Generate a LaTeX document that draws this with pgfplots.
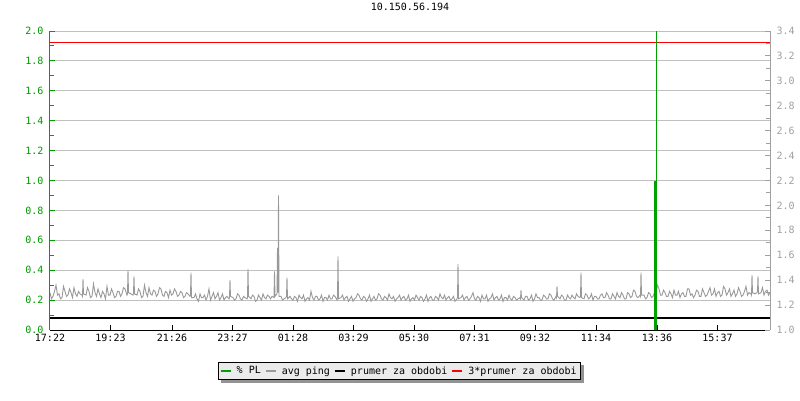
\documentclass[border=0pt]{standalone}
\usepackage{fontspec}
\setmainfont{DejaVu Sans Mono}
\usepackage{pgfplots}
\pgfplotsset{compat=1.18}
\usetikzlibrary{shadows}
\makeatletter
\tikzset{nopreaction/.code={\let\tikz@preactions\pgfutil@empty}}
\makeatother
\definecolor{plgreen}{RGB}{0,160,0}
\definecolor{lblgreen}{RGB}{0,153,0}
\definecolor{pinggray}{RGB}{153,153,153}
\definecolor{gridgray}{RGB}{192,192,192}
\definecolor{rgray}{RGB}{160,160,160}
\definecolor{legfill}{RGB}{235,235,235}
\pgfplotsset{
  base/.style={scale only axis, width=720pt, height=299pt, xmin=0, xmax=1440,
    at={(0pt,0pt)}, anchor=south west, font=\fontsize{10}{12}\selectfont,
    /pgf/number format/assume math mode=true, tick align=inside,
    major tick length=5pt, minor tick length=4pt},
}
\pgfplotstableread{
x y
0 1.30
3 1.25
6 1.27
9 1.31
12 1.36
15 1.28
18 1.29
21 1.25
24 1.26
27 1.35
30 1.31
33 1.27
36 1.28
39 1.33
42 1.30
45 1.26
48 1.34
51 1.29
54 1.27
57 1.31
60 1.29
64 1.28
65 1.27
66 1.41
67 1.29
72 1.28
75 1.34
78 1.31
81 1.26
84 1.27
87 1.37
90 1.30
93 1.27
96 1.33
99 1.29
102 1.26
105 1.31
108 1.29
111 1.25
114 1.35
117 1.28
120 1.28
123 1.33
126 1.30
129 1.26
132 1.27
135 1.31
138 1.31
141 1.27
144 1.29
147 1.34
150 1.33
154 1.28
155 1.29
156 1.48
157 1.30
162 1.29
166 1.28
167 1.30
168 1.43
169 1.29
174 1.28
177 1.33
180 1.31
183 1.26
186 1.27
189 1.36
192 1.30
195 1.27
198 1.34
201 1.29
204 1.28
207 1.32
210 1.31
213 1.27
216 1.29
219 1.34
222 1.33
225 1.28
228 1.27
231 1.31
234 1.30
237 1.26
240 1.32
243 1.28
246 1.29
249 1.33
252 1.31
255 1.27
258 1.28
261 1.31
264 1.30
267 1.26
270 1.27
273 1.30
276 1.29
280 1.27
281 1.28
282 1.46
283 1.26
288 1.26
291 1.29
294 1.25
297 1.23
300 1.29
303 1.26
306 1.26
309 1.28
312 1.24
315 1.27
318 1.33
321 1.24
324 1.27
327 1.30
330 1.25
333 1.27
336 1.30
339 1.24
342 1.26
345 1.29
348 1.24
351 1.26
354 1.27
358 1.25
359 1.26
360 1.40
361 1.27
366 1.26
369 1.24
372 1.25
375 1.29
378 1.28
381 1.25
384 1.24
387 1.27
390 1.26
394 1.25
395 1.26
396 1.49
397 1.27
402 1.25
405 1.28
408 1.27
411 1.23
414 1.24
417 1.28
420 1.26
423 1.24
426 1.29
429 1.26
432 1.25
435 1.28
438 1.27
441 1.25
444 1.27
448 1.26
449 1.47
450 1.27
454 1.29
455 1.66
456 1.30
457 2.08
458 1.27
462 1.27
465 1.24
468 1.25
472 1.26
473 1.27
474 1.42
475 1.25
480 1.27
483 1.25
486 1.24
489 1.27
492 1.26
495 1.23
498 1.28
501 1.26
504 1.25
507 1.28
510 1.23
513 1.25
516 1.26
519 1.24
522 1.31
525 1.26
528 1.24
531 1.27
534 1.27
537 1.24
540 1.25
543 1.28
546 1.23
549 1.26
552 1.26
555 1.24
558 1.28
561 1.25
564 1.25
567 1.28
570 1.27
574 1.24
575 1.26
576 1.59
577 1.25
582 1.26
585 1.28
588 1.24
591 1.26
594 1.27
597 1.23
600 1.25
603 1.27
606 1.23
609 1.25
612 1.26
615 1.29
618 1.28
621 1.25
624 1.24
627 1.27
630 1.26
633 1.23
636 1.25
639 1.28
642 1.23
645 1.25
648 1.27
651 1.24
654 1.25
657 1.29
660 1.28
663 1.25
666 1.24
669 1.27
672 1.26
675 1.24
678 1.29
681 1.26
684 1.25
687 1.27
690 1.23
693 1.25
696 1.26
699 1.28
702 1.24
705 1.26
708 1.27
711 1.24
714 1.25
717 1.28
720 1.23
723 1.25
726 1.26
729 1.24
732 1.28
735 1.26
738 1.24
741 1.27
744 1.26
747 1.23
750 1.25
753 1.28
756 1.23
759 1.26
762 1.27
765 1.24
768 1.24
771 1.27
774 1.26
777 1.24
780 1.29
783 1.26
786 1.25
789 1.28
792 1.24
795 1.26
798 1.27
801 1.24
804 1.25
807 1.27
810 1.23
814 1.25
815 1.26
816 1.53
817 1.25
822 1.26
825 1.28
828 1.24
831 1.26
834 1.27
837 1.24
840 1.25
843 1.27
846 1.30
849 1.25
852 1.24
855 1.27
858 1.26
861 1.23
864 1.28
867 1.25
870 1.25
873 1.28
876 1.23
879 1.25
882 1.26
885 1.29
888 1.24
891 1.26
894 1.27
897 1.24
900 1.25
903 1.28
906 1.23
909 1.26
912 1.26
915 1.24
918 1.28
921 1.25
924 1.24
927 1.27
930 1.26
933 1.24
936 1.25
940 1.26
941 1.25
942 1.32
943 1.26
948 1.24
951 1.27
954 1.27
957 1.24
960 1.25
963 1.28
966 1.23
969 1.25
972 1.29
975 1.26
978 1.26
981 1.24
984 1.24
987 1.28
990 1.27
993 1.25
996 1.25
999 1.29
1002 1.28
1005 1.25
1008 1.24
1012 1.27
1013 1.26
1014 1.35
1015 1.27
1020 1.25
1023 1.28
1026 1.27
1029 1.24
1032 1.24
1035 1.28
1038 1.26
1041 1.25
1044 1.28
1047 1.26
1050 1.25
1053 1.29
1056 1.27
1060 1.26
1061 1.27
1062 1.46
1063 1.26
1068 1.25
1071 1.29
1074 1.28
1077 1.25
1080 1.26
1083 1.29
1086 1.24
1089 1.27
1092 1.27
1095 1.25
1098 1.25
1101 1.28
1104 1.29
1107 1.26
1110 1.26
1113 1.30
1116 1.28
1119 1.25
1122 1.25
1125 1.29
1128 1.27
1131 1.25
1134 1.30
1137 1.27
1140 1.26
1143 1.30
1146 1.28
1149 1.25
1152 1.25
1155 1.30
1158 1.29
1161 1.26
1164 1.27
1167 1.32
1170 1.31
1173 1.27
1176 1.26
1180 1.28
1181 1.27
1182 1.46
1183 1.28
1188 1.28
1191 1.25
1194 1.26
1197 1.30
1200 1.29
1203 1.26
1206 1.27
1209 1.30
1212 1.31
1215 1.36
1218 1.33
1221 1.28
1224 1.28
1227 1.32
1230 1.30
1233 1.27
1236 1.27
1239 1.31
1242 1.29
1245 1.26
1248 1.32
1251 1.28
1254 1.28
1257 1.31
1260 1.26
1263 1.29
1266 1.30
1269 1.27
1272 1.27
1275 1.33
1278 1.33
1281 1.28
1284 1.29
1287 1.26
1290 1.28
1293 1.32
1296 1.31
1299 1.27
1302 1.27
1305 1.33
1308 1.30
1311 1.27
1314 1.28
1317 1.31
1320 1.34
1323 1.28
1326 1.29
1329 1.33
1332 1.27
1335 1.30
1338 1.31
1341 1.27
1344 1.28
1347 1.35
1350 1.33
1353 1.28
1356 1.30
1359 1.33
1362 1.27
1365 1.29
1368 1.32
1371 1.27
1374 1.29
1377 1.34
1380 1.31
1383 1.27
1386 1.28
1389 1.31
1392 1.35
1395 1.28
1398 1.30
1402 1.29
1403 1.28
1404 1.44
1405 1.30
1410 1.29
1414 1.30
1415 1.31
1416 1.43
1417 1.29
1422 1.30
1425 1.34
1428 1.28
1431 1.31
1434 1.32
1437 1.28
1440 1.30
}\pingdata
\begin{document}
\begin{tikzpicture}
\path[use as bounding box] (-50pt,-70pt) rectangle (750pt,330pt);
% left axis with grid
\begin{axis}[base, ymin=0, ymax=2,
  axis y line*=left, axis x line*=bottom,
  ytick={0,0.2,0.4,0.6,0.8,1.0,1.2,1.4,1.6,1.8,2.0}, minor y tick num=1,
  ymajorgrids, grid style={gridgray, line width=1pt},
  y axis line style={plgreen, line width=1pt},
  y tick style={plgreen, line width=1pt},
  yticklabel style={lblgreen, xshift=-3pt, /pgf/number format/.cd, fixed, fixed zerofill, precision=1},
  x axis line style={black, line width=1pt},
  x tick style={black, line width=1pt},
  xtick={0,121,244,365,486,607,728,849,970,1092,1214,1335},
  xticklabels={17:22,19:23,21:26,23:27,01:28,03:29,05:30,07:31,09:32,11:34,13:36,15:37},
  xticklabel style={yshift=-1pt},
  title={10.150.56.194}, title style={at={(0.5,1)}, anchor=center, yshift=18pt}]
\addplot[draw=none] coordinates {(0,0)};
\end{axis}
% right axis with ping
\begin{axis}[base, ymin=1, ymax=3.4,
  axis y line*=right, axis x line=none,
  ytick={1.0,1.2,1.4,1.6,1.8,2.0,2.2,2.4,2.6,2.8,3.0,3.2,3.4}, minor y tick num=1,
  y axis line style={rgray, line width=1pt},
  y tick style={rgray, line width=1pt},
  yticklabel style={rgray, xshift=3pt, /pgf/number format/.cd, fixed, fixed zerofill, precision=1},
  legend image code/.code={\draw[nopreaction, #1, line width=2pt] (0pt,0pt) -- (10pt,0pt);},
  legend columns=4,
  legend style={at={(0.485,-0.137)}, anchor=center, draw=black, fill=legfill,
    font=\fontsize{10}{12}\selectfont, inner sep=2pt,
    /tikz/every even column/.append style={column sep=2pt},
    /tikz/every odd column/.append style={column sep=3pt},
    drop shadow={shadow xshift=3pt, shadow yshift=-3pt, fill=gray!85, opacity=1}}]
\addlegendimage{plgreen}
\addlegendentry{\% PL}
\addplot[pinggray, line width=0.9pt] table[x=x, y=y] {\pingdata};
\addlegendentry{avg ping}
\addplot[black, line width=2pt] coordinates {(0,1.10) (1440,1.10)};
\addlegendentry{prumer za obdobi}
\addplot[red, line width=1pt] coordinates {(0,3.31) (1440,3.31)};
\addlegendentry{3*prumer za obdobi}
\end{axis}
% packet loss on left scale
\begin{axis}[base, ymin=0, ymax=2, hide axis, clip=false]
\addplot[plgreen, line width=1pt] coordinates {(1212,0) (1212,2)};
\addplot[plgreen, line width=2pt] coordinates {(1210,0) (1210,1.0)};
\end{axis}
\end{tikzpicture}
\end{document}
